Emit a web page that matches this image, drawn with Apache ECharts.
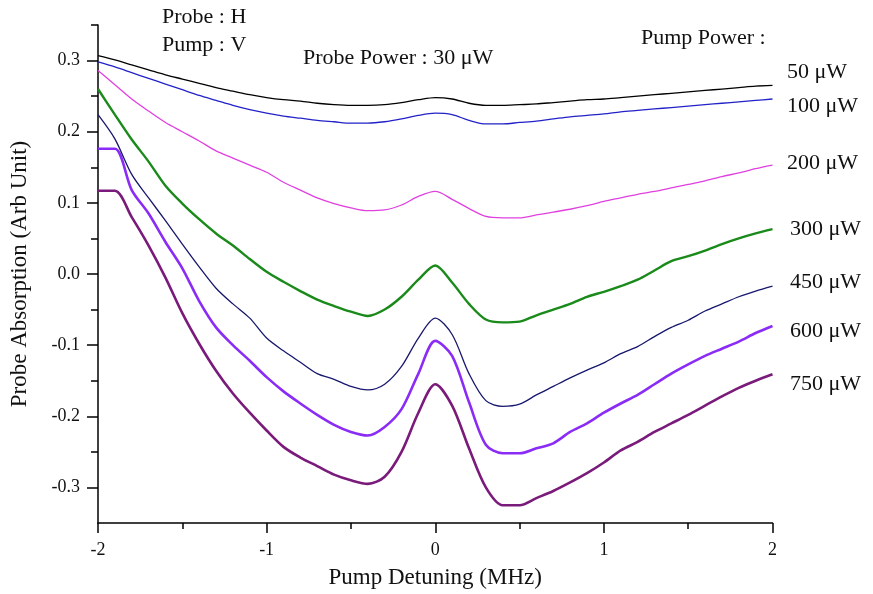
<!DOCTYPE html>
<html><head><meta charset="utf-8">
<script src="https://cdn.jsdelivr.net/npm/echarts@6/dist/echarts.min.js"></script>
<style>html,body{margin:0;padding:0;background:#fff}#c{width:873px;height:594px}</style>
</head><body><div id="c"></div>
<script>
// Pump detuning (MHz)
const detuning = [-2.0,-1.9,-1.8,-1.7,-1.6,-1.5,-1.4,-1.3,-1.2,-1.1,-1.0,-0.9,-0.8,-0.7,-0.6,-0.5,-0.4,-0.3,-0.2,-0.1,0.0,
  0.1,0.2,0.3,0.4,0.5,0.6,0.7,0.8,0.9,1.0,1.1,1.2,1.3,1.4,1.5,1.6,1.7,1.8,1.9,2.0];
// Probe absorption for each pump power
const p50 = [0.307,0.301,0.294,0.287,0.280,0.274,0.268,0.262,0.257,0.252,0.248,0.245,0.243,0.240,0.238,0.237,0.237,0.238,0.241,0.245,0.248,
  0.246,0.240,0.237,0.237,0.238,0.239,0.241,0.243,0.245,0.246,0.248,0.250,0.252,0.254,0.256,0.258,0.260,0.262,0.264,0.265];
const p100 = [0.298,0.291,0.283,0.275,0.267,0.259,0.251,0.244,0.237,0.231,0.226,0.222,0.219,0.216,0.214,0.212,0.212,0.214,0.218,0.223,0.226,
  0.224,0.216,0.211,0.211,0.213,0.215,0.218,0.221,0.223,0.225,0.228,0.230,0.232,0.234,0.236,0.238,0.240,0.242,0.244,0.246];
const p200 = [0.286,0.266,0.246,0.229,0.213,0.200,0.187,0.173,0.163,0.153,0.143,0.129,0.118,0.107,0.099,0.093,0.089,0.090,0.097,0.109,0.116,
  0.105,0.092,0.081,0.079,0.079,0.083,0.087,0.091,0.096,0.102,0.107,0.112,0.116,0.121,0.126,0.131,0.137,0.142,0.148,0.153];
const p300 = [0.260,0.224,0.189,0.158,0.124,0.099,0.077,0.057,0.040,0.021,0.003,-0.011,-0.024,-0.036,-0.045,-0.053,-0.059,-0.050,-0.032,-0.008,0.012,
  -0.012,-0.042,-0.064,-0.068,-0.067,-0.058,-0.050,-0.042,-0.032,-0.025,-0.017,-0.008,0.005,0.018,0.025,0.033,0.042,0.050,0.057,0.063];
const p450 = [0.224,0.190,0.140,0.107,0.075,0.042,0.010,-0.020,-0.042,-0.062,-0.090,-0.108,-0.124,-0.140,-0.148,-0.158,-0.163,-0.155,-0.130,-0.090,-0.062,
  -0.085,-0.140,-0.178,-0.186,-0.183,-0.170,-0.158,-0.146,-0.135,-0.125,-0.112,-0.102,-0.088,-0.075,-0.065,-0.052,-0.042,-0.032,-0.024,-0.017];
const p600 = [0.176,0.176,0.118,0.085,0.045,0.008,-0.038,-0.075,-0.100,-0.122,-0.145,-0.165,-0.182,-0.198,-0.212,-0.222,-0.227,-0.215,-0.190,-0.140,-0.094,
  -0.115,-0.180,-0.240,-0.252,-0.252,-0.245,-0.238,-0.222,-0.210,-0.195,-0.182,-0.170,-0.155,-0.140,-0.127,-0.115,-0.105,-0.095,-0.083,-0.073];
const p750 = [0.117,0.117,0.080,0.040,-0.005,-0.055,-0.098,-0.136,-0.168,-0.195,-0.220,-0.243,-0.258,-0.270,-0.282,-0.290,-0.295,-0.285,-0.250,-0.195,-0.155,
  -0.185,-0.245,-0.300,-0.325,-0.325,-0.315,-0.305,-0.293,-0.280,-0.265,-0.248,-0.236,-0.222,-0.210,-0.198,-0.185,-0.172,-0.160,-0.150,-0.141];
const seriesNames = ['50 μW','100 μW','200 μW','300 μW','450 μW','600 μW','750 μW'];
const seriesValues = [p50,p100,p200,p300,p450,p600,p750];
const seriesColors = ['#000000','#2222c8','#e040e0','#1a8a1a','#17176e','#8a2cf5','#7a1a7a'];
const seriesWidths = [1.3,1.3,1.3,2.4,1.3,2.6,2.6];
const yTickLabels = [-0.3,-0.2,-0.1,0.0,0.1,0.2,0.3];
const yMinorTicks = [-0.25,-0.15,-0.05,0.05,0.15,0.25,0.35];
const xTickLabels = [-2,-1,0,1,2];

const FONT = '"Liberation Serif", "Times New Roman", serif';
const chart = echarts.init(document.getElementById('c'), null, {renderer:'canvas'});

const series = seriesValues.map((vals, i) => ({
  name: seriesNames[i], type: 'line', xAxisIndex: 0, yAxisIndex: 0,
  data: detuning.map((x, j) => [x, vals[j]]),
  showSymbol: false, smooth: 0.3, silent: true,
  lineStyle: {color: seriesColors[i], width: seriesWidths[i]},
  z: 10 - i
}));

const labelY = [73, 107, 164, 230, 283, 332, 385];
const graphics = [
  {type:'text', left:162, top:6, style:{text:'Probe : H', font:'22px ' + FONT, fill:'#111'}},
  {type:'text', left:162, top:34, style:{text:'Pump : V', font:'22px ' + FONT, fill:'#111'}},
  {type:'text', left:303, top:47, style:{text:'Probe Power : 30 μW', font:'22px ' + FONT, fill:'#111'}},
  {type:'text', left:641, top:27, style:{text:'Pump Power :', font:'22px ' + FONT, fill:'#111'}}
].concat(seriesNames.map((n, i) => ({
  type:'text', left: i < 3 ? 787 : 790, top: labelY[i] - 12,
  style:{text:n, font:'22px ' + FONT, fill:'#111'}
})));

chart.setOption({
  backgroundColor:'#fff',
  animation:false,
  grid:{left:97, right:100.5, top:25, bottom:70},
  xAxis:[{
    type:'value', min:-2, max:2, interval:1,
    name:'Pump Detuning (MHz)', nameLocation:'middle', nameGap:43,
    nameTextStyle:{fontFamily:FONT, fontSize:23, color:'#111'},
    axisLine:{show:true, onZero:false, lineStyle:{color:'#000', width:1.5}},
    axisTick:{show:true, length:10, lineStyle:{color:'#000', width:1.5}},
    minorTick:{show:true, splitNumber:2, length:6, lineStyle:{color:'#000', width:1.5}},
    splitLine:{show:false},
    axisLabel:{fontFamily:FONT, fontSize:18, color:'#111', margin:18,
      customValues: xTickLabels, formatter: v => String(v)}
  }],
  yAxis:[{
    type:'value', min:-0.35, max:0.35,
    name:'Probe Absorption (Arb Unit)', nameLocation:'middle', nameGap:67,
    nameTextStyle:{fontFamily:FONT, fontSize:23, color:'#111'},
    axisLine:{show:true, onZero:false, lineStyle:{color:'#000', width:1.5}},
    axisTick:{show:true, length:11, customValues: yTickLabels, lineStyle:{color:'#000', width:1.5}},
    splitLine:{show:false},
    axisLabel:{fontFamily:FONT, fontSize:18, color:'#111', margin:18,
      customValues: yTickLabels, formatter: v => v.toFixed(1)}
  },{
    type:'value', min:-0.35, max:0.35, position:'left',
    axisLine:{show:false, onZero:false},
    axisTick:{show:true, length:7, customValues: yMinorTicks, lineStyle:{color:'#000', width:1.5}},
    splitLine:{show:false},
    axisLabel:{show:false}
  }],
  graphic: graphics,
  series: series
});
</script></body></html>
